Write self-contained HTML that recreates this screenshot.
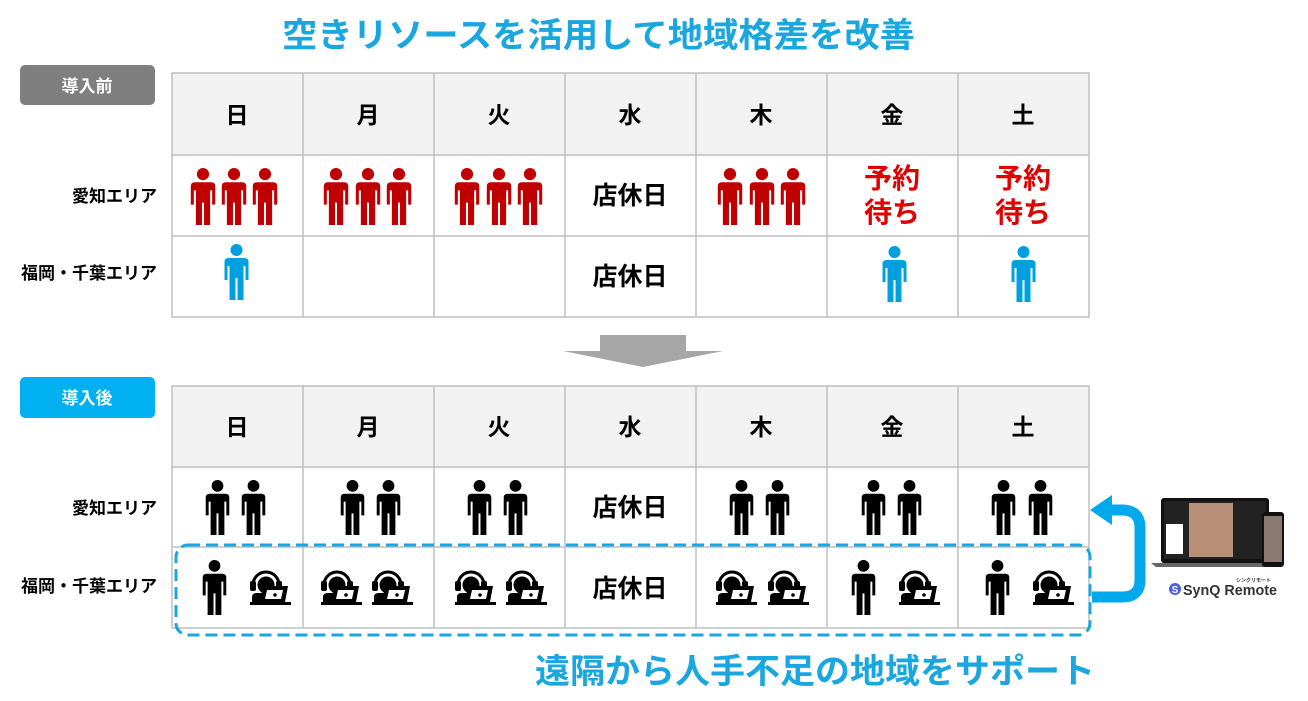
<!DOCTYPE html>
<html><head><meta charset="utf-8"><style>
html,body{margin:0;padding:0;background:#fff}
svg{display:block}
text{font-family:"Liberation Sans","Noto Sans CJK JP",sans-serif;font-weight:bold}
</style></head><body>
<svg width="1308" height="701" viewBox="0 0 1308 701" xmlns="http://www.w3.org/2000/svg">
<defs>
<symbol id="p" viewBox="0 0 24 56">
<circle cx="12" cy="6" r="6"/>
<path d="M4 14 H20 Q24 14 24 18 V36 H21 V22 H19 V56 H13 V34 H11 V56 H5 V22 H3 V36 H0 V18 Q0 14 4 14Z"/>
</symbol>
<symbol id="h" viewBox="0 0 44 40">
<path d="M5 19 A13 13 0 0 1 31 19" fill="none" stroke="#000" stroke-width="3"/>
<rect x="2" y="15" width="6" height="10" rx="2"/>
<rect x="28" y="15" width="6" height="10" rx="2"/>
<circle cx="18" cy="19" r="8.5"/>
<path d="M4 36 V31 Q4 27 9 27 H16 V36Z"/>
<path d="M15 20 H40 L37 36 H12Z"/>
<path d="M19 24 H35 L33 33 H17Z" fill="#fff"/>
<circle cx="27" cy="29" r="1.8"/>
<rect x="2" y="36" width="41" height="3"/>
</symbol>
</defs>

<text x="282" y="47" font-size="34" fill="#1aa7e0" textLength="633" lengthAdjust="spacingAndGlyphs">空きリソースを活用して地域格差を改善</text>

<rect x="20" y="65" width="135" height="40" rx="5" fill="#7f7f7f"/>
<text x="87" y="92" font-size="17" fill="#fff" text-anchor="middle">導入前</text>
<rect x="20" y="377" width="135" height="41" rx="5" fill="#00b0f0"/>
<text x="87" y="404" font-size="17" fill="#fff" text-anchor="middle">導入後</text>

<rect x="172" y="73" width="917" height="82" fill="#f2f2f2"/>
<g stroke="#bfbfbf" stroke-width="1.5" fill="none">
<rect x="172" y="73" width="917" height="244"/>
<line x1="172" y1="155" x2="1089" y2="155"/><line x1="172" y1="236" x2="1089" y2="236"/>
<line x1="303" y1="73" x2="303" y2="317"/><line x1="434" y1="73" x2="434" y2="317"/><line x1="565" y1="73" x2="565" y2="317"/><line x1="696" y1="73" x2="696" y2="317"/><line x1="827" y1="73" x2="827" y2="317"/><line x1="958" y1="73" x2="958" y2="317"/>
</g>
<rect x="172" y="386" width="917" height="81" fill="#f2f2f2"/>
<g stroke="#bfbfbf" stroke-width="1.5" fill="none">
<rect x="172" y="386" width="917" height="242"/>
<line x1="172" y1="467" x2="1089" y2="467"/><line x1="172" y1="547" x2="1089" y2="547"/>
<line x1="303" y1="386" x2="303" y2="628"/><line x1="434" y1="386" x2="434" y2="628"/><line x1="565" y1="386" x2="565" y2="628"/><line x1="696" y1="386" x2="696" y2="628"/><line x1="827" y1="386" x2="827" y2="628"/><line x1="958" y1="386" x2="958" y2="628"/>
</g>

<g font-size="23" text-anchor="middle" fill="#000">
<text x="237" y="123">日</text><text x="368" y="123">月</text><text x="499" y="123">火</text><text x="630" y="123">水</text><text x="761" y="123">木</text><text x="892" y="123">金</text><text x="1023" y="123">土</text>
<text x="237" y="435">日</text><text x="368" y="435">月</text><text x="499" y="435">火</text><text x="630" y="435">水</text><text x="761" y="435">木</text><text x="892" y="435">金</text><text x="1023" y="435">土</text>
</g>
<g font-size="25" text-anchor="middle" fill="#000">
<text x="630" y="204">店休日</text><text x="630" y="285">店休日</text>
<text x="630" y="516">店休日</text><text x="630" y="597">店休日</text>
</g>
<g font-size="28" text-anchor="middle" fill="#e00000">
<text x="892" y="188">予約</text><text x="892" y="222">待ち</text>
<text x="1023" y="188">予約</text><text x="1023" y="222">待ち</text>
</g>
<g font-size="17" text-anchor="end" fill="#000">
<text x="157" y="202">愛知エリア</text><text x="157" y="279">福岡・千葉エリア</text>
<text x="157" y="514">愛知エリア</text><text x="157" y="592">福岡・千葉エリア</text>
</g>

<g fill="#c00000">
<use href="#p" x="190" y="168" width="26" height="57"/><use href="#p" x="221" y="168" width="26" height="57"/><use href="#p" x="252" y="168" width="26" height="57"/>
<use href="#p" x="323" y="168" width="26" height="57"/><use href="#p" x="355" y="168" width="26" height="57"/><use href="#p" x="386" y="168" width="26" height="57"/>
<use href="#p" x="454" y="168" width="26" height="57"/><use href="#p" x="486" y="168" width="26" height="57"/><use href="#p" x="517" y="168" width="26" height="57"/>
<use href="#p" x="717" y="168" width="26" height="57"/><use href="#p" x="749" y="168" width="26" height="57"/><use href="#p" x="780" y="168" width="26" height="57"/>
</g>
<g fill="#00a0e0">
<use href="#p" x="224" y="244" width="25" height="56"/><use href="#p" x="882" y="246" width="25" height="56"/><use href="#p" x="1011" y="246" width="25" height="56"/>
</g>
<g fill="#000">
<use href="#p" x="205" y="480" width="25" height="55"/><use href="#p" x="241" y="480" width="25" height="55"/>
<use href="#p" x="340" y="480" width="25" height="55"/><use href="#p" x="376" y="480" width="25" height="55"/>
<use href="#p" x="467" y="480" width="25" height="55"/><use href="#p" x="503" y="480" width="25" height="55"/>
<use href="#p" x="729" y="480" width="25" height="55"/><use href="#p" x="765" y="480" width="25" height="55"/>
<use href="#p" x="861" y="480" width="25" height="55"/><use href="#p" x="897" y="480" width="25" height="55"/>
<use href="#p" x="991" y="480" width="25" height="55"/><use href="#p" x="1028" y="480" width="25" height="55"/>
<use href="#p" x="202" y="560" width="25" height="55"/>
<use href="#p" x="851" y="560" width="25" height="55"/>
<use href="#p" x="985" y="560" width="25" height="55"/>
<use href="#h" x="248" y="566" width="44" height="40"/>
<use href="#h" x="319" y="566" width="44" height="40"/><use href="#h" x="370" y="566" width="44" height="40"/>
<use href="#h" x="453" y="566" width="44" height="40"/><use href="#h" x="504" y="566" width="44" height="40"/>
<use href="#h" x="714" y="566" width="44" height="40"/><use href="#h" x="766" y="566" width="44" height="40"/>
<use href="#h" x="897" y="566" width="44" height="40"/>
<use href="#h" x="1031" y="566" width="44" height="40"/>
</g>

<rect x="176" y="545" width="914" height="90" rx="12" fill="none" stroke="#1aa7e0" stroke-width="3" stroke-dasharray="12 6"/>

<path d="M600 335 H686 V351 H723 L643 367 L563 351 H600Z" fill="#a6a6a6"/>

<path d="M1092 597 H1122 Q1140 597 1140 580 V528 Q1140 510 1122 510 H1110" fill="none" stroke="#00a8ec" stroke-width="11"/>
<path d="M1090 510 L1112 495 V525Z" fill="#00a8ec"/>

<rect x="1161" y="498" width="108" height="65" rx="3" fill="#111"/>
<rect x="1164" y="501" width="102" height="58" fill="#222"/>
<rect x="1189" y="503" width="44" height="54" fill="#b89078"/>
<rect x="1166" y="524" width="17" height="30" fill="#fff"/>
<path d="M1151 563 H1269 L1264 567 H1156Z" fill="#666"/>
<rect x="1262" y="512" width="22" height="55" rx="3" fill="#111"/>
<rect x="1264" y="516" width="18" height="46" fill="#8a7a70"/>
<circle cx="1175" cy="589" r="6" fill="#4a5ee8"/>
<text x="1175" y="593" font-size="10" fill="#fff" text-anchor="middle">S</text>
<text x="1183" y="595" font-size="15" fill="#333" textLength="94" lengthAdjust="spacingAndGlyphs">SynQ Remote</text>
<text x="1236" y="582" font-size="5" fill="#333">シンクリモート</text>

<text x="535" y="683" font-size="34" fill="#1aa7e0" textLength="560" lengthAdjust="spacingAndGlyphs">遠隔から人手不足の地域をサポート</text>
</svg>
</body></html>
